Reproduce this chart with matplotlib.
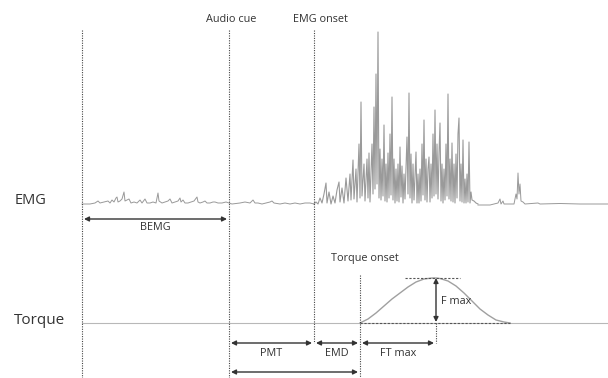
import matplotlib.pyplot as plt

# EMG trace, amplitude in px above the EMG baseline
quiet_t = [82, 90, 95, 98, 100, 104, 108, 110, 112, 114, 116, 117, 118, 120, 122, 124, 125, 127, 129, 131,
           134, 137, 140, 142, 145, 147, 150, 153, 156, 158, 159, 162, 165, 168, 170, 172, 175, 178, 180, 181,
           183, 185, 188, 191, 194, 197, 198, 200, 203, 205, 207, 210, 213, 215, 218, 222, 226, 229, 232, 240,
           245, 250, 253, 255, 258, 262, 266, 270, 272, 274, 280, 285, 290, 295, 300, 305, 310, 314]
quiet_v = [0, 0, 1, 3, 1, 2, 3, 1, 4, 2, 6, 7, 2, 3, 5, 12, 3, 4, 5, 1,
           2, 1, 4, 1, 5, 1, 1, 2, 1, 11, 3, 1, 2, 3, 5, 1, 2, 3, 6, 2,
           4, 1, 1, 2, 3, 7, 2, 1, 2, 3, 1, 1, 2, 2, 1, 1, 2, 1, 0, 1,
           2, 1, 4, 1, 1, 0, 1, 2, 3, 1, 0, 1, 0, 1, 0, 1, 1, 0]

burst_t = [314, 316, 318, 320, 322, 324, 326, 327, 329, 331, 333, 335, 337, 339, 340, 342, 344, 346, 348, 350,
           351, 353, 354, 356, 357, 359, 360, 361, 362, 364, 365, 367, 368, 369, 370, 372, 373, 374, 375, 376,
           377, 378, 379, 380, 381, 382, 383, 384, 385, 386, 387, 388, 389, 390, 391, 392, 393, 394, 395, 396,
           397, 398, 399, 400, 401, 402, 403, 404, 405, 407, 408, 409, 410, 411, 412, 413, 414, 416, 417, 418,
           419, 420, 421, 422, 423, 424, 425, 426, 427, 428, 429, 430, 431, 432, 433, 434, 435, 436, 437, 438,
           439, 440, 441, 442, 443, 444, 445, 446, 447, 448, 449, 450, 451, 452, 453, 454, 455, 456, 457, 458,
           459, 460, 461, 462, 463, 464, 465, 466, 467, 468, 469, 470, 471, 472, 474, 476, 478]
burst_v = [0, 2, 0, 6, 1, 10, 21, 1, 12, 0, 8, 1, 14, 22, 2, 16, 1, 26, 3, 30,
           4, 44, 5, 35, 2, 60, 6, 102, 8, 40, 3, 45, 6, 51, 2, 60, 10, 97, 15, 130,
           20, 172, 6, 55, 4, 45, 8, 79, 3, 40, 2, 51, 6, 70, 9, 107, 4, 45, 1, 35,
           3, 40, 2, 57, 7, 38, 1, 30, 5, 67, 10, 111, 6, 50, 1, 40, 4, 52, 1, 30,
           1, 35, 3, 60, 9, 84, 4, 45, 2, 35, 47, 2, 40, 6, 70, 8, 94, 10, 60, 5,
           50, 81, 3, 40, 1, 35, 4, 60, 8, 110, 5, 45, 3, 61, 2, 40, 1, 50, 6, 70,
           86, 3, 40, 2, 64, 1, 25, 1, 30, 2, 62, 1, 12, 4, 3, 1, 0]

tail_t = [478, 490, 498, 500, 501, 503, 504, 514, 516, 517, 518, 519, 520, 521, 523, 525, 538, 540, 560, 580, 608]
tail_v = [-1, -1, 1, 5, 0, 3, 0, 0, 10, 5, 31, 10, 20, 3, 2, 0, 1, 0, 0.5, 0, 0]

# Torque curve, px above torque baseline
torque_t = [360, 368, 376, 384, 392, 400, 408, 416, 424, 432, 436, 440, 448, 456, 464, 472, 480, 488, 496, 504, 510]
torque_v = [0, 4, 10, 17, 24, 30, 36, 41, 44, 45, 45, 44.5, 42, 37, 30, 22, 14, 8, 3, 1, 0]

emg_base = 204
torque_base = 323
events = {'start': 82, 'Audio cue': 229, 'EMG onset': 314, 'Torque onset': 360}

plt.rcParams['font.family'] = ['Open Sans', 'DejaVu Sans']
fig = plt.figure(figsize=(6.08, 3.78), dpi=100)
ax = fig.add_axes([0, 0, 1, 1])
ax.set_xlim(0, 608)
ax.set_ylim(378, 0)
ax.axis('off')

dot = (0, (1, 1.2))
tc = '#333333'

# EMG
ax.plot(quiet_t, [emg_base - v for v in quiet_v], color='#999999', lw=0.7)
ax.plot(burst_t, [emg_base - v for v in burst_v], color='#9a9a9a', lw=0.8)
ax.plot(tail_t, [emg_base - v for v in tail_v], color='#999999', lw=0.7)

# torque
ax.plot([82, 608], [torque_base, torque_base], color='#b8b8b8', lw=0.8)
ax.plot(torque_t, [torque_base - v for v in torque_v], color='#a0a0a0', lw=1.0)
ax.plot([360, 510], [torque_base, torque_base], color='#555555', lw=0.8, ls=(0, (2, 1.5)))
ax.plot([405, 460], [torque_base - max(torque_v)] * 2, color='#555555', lw=0.8, ls=(0, (2, 1.5)))

# event lines
ax.plot([events['start']] * 2, [30, 378], color='#444444', lw=0.8, ls=dot)
ax.plot([events['Audio cue']] * 2, [30, 378], color='#444444', lw=0.8, ls=dot)
ax.plot([events['EMG onset']] * 2, [30, 343], color='#444444', lw=0.8, ls=dot)
ax.plot([events['Torque onset']] * 2, [275, 378], color='#444444', lw=0.8, ls=dot)
ax.plot([436, 436], [323, 343], color='#444444', lw=0.8, ls=dot)

ax.text(events['Audio cue'] + 2, 20, 'Audio cue', ha='center', va='center', fontsize=7.8, color=tc)
ax.text(events['EMG onset'] + 6, 20, 'EMG onset', ha='center', va='center', fontsize=7.8, color=tc)
ax.text(365, 258, 'Torque onset', ha='center', va='center', fontsize=7.8, color=tc)

ax.text(31, 200, 'EMG', ha='center', va='center', fontsize=10.5, color=tc)
ax.text(40, 320, 'Torque', ha='center', va='center', fontsize=11, color=tc)

arrow = dict(arrowstyle='<|-|>', color='#333333', lw=1.0, mutation_scale=7, shrinkA=0, shrinkB=0)

def span(x0, x1, y, label=None, ly=None):
    ax.annotate('', xy=(x0, y), xytext=(x1, y), arrowprops=arrow)
    if label:
        ax.text((x0 + x1) / 2, ly, label, ha='center', va='center', fontsize=7.8, color=tc)

span(84, 227, 219, 'BEMG', 228)
span(231, 312, 343, 'PMT', 354)
span(316, 358, 343, 'EMD', 354)
span(362, 434, 343, 'FT max', 354)
span(231, 358, 372, 'RT', 383)

ax.annotate('', xy=(436, 278), xytext=(436, 322), arrowprops=arrow)
ax.text(441, 302, 'F max', ha='left', va='center', fontsize=7.8, color=tc)

fig.savefig('out.png', dpi=100)
